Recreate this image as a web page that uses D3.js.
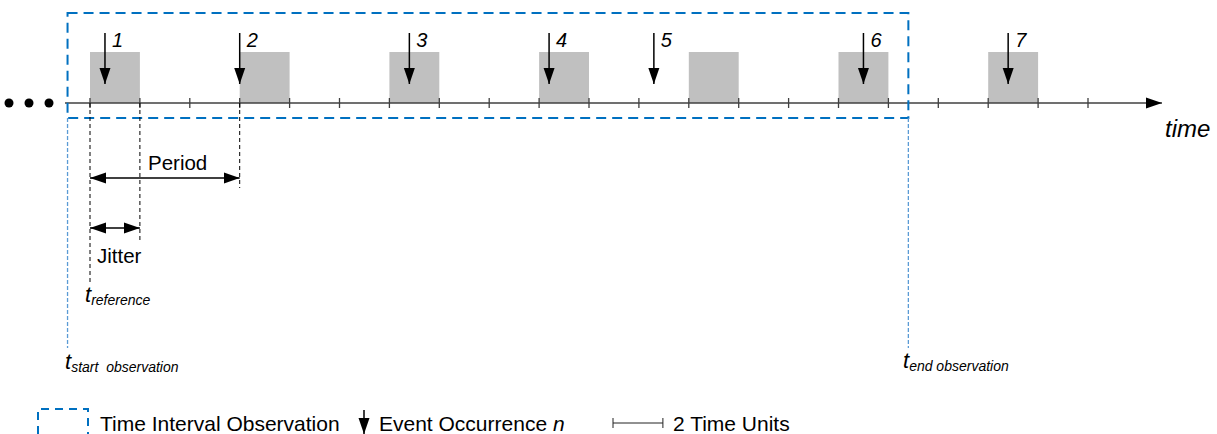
<!DOCTYPE html>
<meta charset="utf-8">
<script src="https://d3js.org/d3.v7.min.js"></script>
<style>
  body { margin: 0; background: #fff; }
  text { font-family: "Liberation Sans", Arial, sans-serif; fill: #000; }
</style>
<div id="my_dataviz"></div>
<script>
// data, in time units
var tickTimes = [0, 2, 4, 6, 8, 10, 12, 14, 16, 18, 20, 22, 24, 26, 28, 30, 32, 34, 36, 38, 40];
var windowStarts = [0, 6, 12, 18, 24, 30, 36];
var windowLength = 2;
var eventTimes = [0.6, 6.0, 12.8, 18.4, 22.6, 31.0, 36.8];
var eventLabels = ["1", "2", "3", "4", "5", "6", "7"];
var referenceTime = 0;
var period = 6;
var jitter = 2;
var observationStart = -0.9;
var observationEnd = 32.8;
var legendLabels = ["Time Interval Observation", "Event Occurrence ", "2 Time Units"];

var width = 1217, height = 434;
var axisY = 103;

var x = d3.scaleLinear().domain([0, 40]).range([90, 1088]);

var svg = d3.select("#my_dataviz")
  .append("svg")
    .attr("width", width)
    .attr("height", height);

var defs = svg.append("defs");
defs.append("marker")
    .attr("id", "head")
    .attr("markerUnits", "userSpaceOnUse")
    .attr("viewBox", "0 -6 17 12")
    .attr("markerWidth", 17).attr("markerHeight", 12)
    .attr("refX", 16).attr("refY", 0)
    .attr("orient", "auto-start-reverse")
  .append("path")
    .attr("d", "M0,-5.5L16,0L0,5.5Z")
    .attr("fill", "#000");

// jitter windows
svg.selectAll(".win")
  .data(windowStarts)
  .enter().append("rect")
    .attr("x", function(d) { return x(d); })
    .attr("y", 52)
    .attr("width", function(d) { return x(d + windowLength) - x(d); })
    .attr("height", axisY - 52)
    .attr("fill", "#c0c0c0");

// time axis
svg.append("line")
    .attr("x1", 65).attr("x2", 1162)
    .attr("y1", axisY).attr("y2", axisY)
    .attr("stroke", "#404040").attr("stroke-width", 1.5)
    .attr("marker-end", "url(#head)");

svg.selectAll(".tick")
  .data(tickTimes)
  .enter().append("line")
    .attr("x1", function(d) { return x(d); })
    .attr("x2", function(d) { return x(d); })
    .attr("y1", axisY - 5).attr("y2", axisY + 5)
    .attr("stroke", "#404040").attr("stroke-width", 1.3);

svg.append("text")
    .attr("x", 1165).attr("y", 137)
    .style("font-size", "24px").style("font-style", "italic")
    .text("time");

// leading dots
svg.selectAll(".dot")
  .data([9, 29, 49])
  .enter().append("circle")
    .attr("cx", function(d) { return d; })
    .attr("cy", axisY)
    .attr("r", 4.5)
    .attr("fill", "#000");

// events
var ev = svg.selectAll(".ev")
  .data(eventTimes)
  .enter().append("g");

ev.append("line")
    .attr("x1", function(d) { return x(d); })
    .attr("x2", function(d) { return x(d); })
    .attr("y1", 33).attr("y2", 84)
    .attr("stroke", "#000").attr("stroke-width", 1.5)
    .attr("marker-end", "url(#head)");

ev.append("text")
    .attr("x", function(d) { return x(d) + 7; })
    .attr("y", 47)
    .style("font-size", "20px").style("font-style", "italic")
    .text(function(d, i) { return eventLabels[i]; });

// observation interval
var blue = "#0070c0";
svg.append("rect")
    .attr("x", x(observationStart)).attr("y", 13)
    .attr("width", x(observationEnd) - x(observationStart))
    .attr("height", 105)
    .attr("fill", "none")
    .attr("stroke", blue).attr("stroke-width", 2)
    .attr("stroke-dasharray", "10,6");

svg.selectAll(".obs")
  .data([observationStart, observationEnd])
  .enter().append("line")
    .attr("x1", function(d) { return x(d); })
    .attr("x2", function(d) { return x(d); })
    .attr("y1", 118).attr("y2", 348)
    .attr("stroke", "#5b9bd5").attr("stroke-width", 1.3)
    .attr("stroke-dasharray", "4,2");

// reference lines
var refLines = [
  {t: referenceTime, y2: 282},
  {t: referenceTime + jitter, y2: 240},
  {t: referenceTime + period, y2: 188}
];
svg.selectAll(".ref")
  .data(refLines)
  .enter().append("line")
    .attr("x1", function(d) { return x(d.t); })
    .attr("x2", function(d) { return x(d.t); })
    .attr("y1", axisY).attr("y2", function(d) { return d.y2; })
    .attr("stroke", "#000").attr("stroke-width", 1)
    .attr("stroke-dasharray", "4,3");

// period and jitter dimension arrows
var dims = [
  {t0: referenceTime, t1: referenceTime + period, y: 178, label: "Period", ly: 170, lx: 148},
  {t0: referenceTime, t1: referenceTime + jitter, y: 228, label: "Jitter", ly: 263, lx: 97}
];
svg.selectAll(".dim")
  .data(dims)
  .enter().append("line")
    .attr("x1", function(d) { return x(d.t0); })
    .attr("x2", function(d) { return x(d.t1); })
    .attr("y1", function(d) { return d.y; })
    .attr("y2", function(d) { return d.y; })
    .attr("stroke", "#000").attr("stroke-width", 1.5)
    .attr("marker-start", "url(#head)")
    .attr("marker-end", "url(#head)");

svg.selectAll(".dimlab")
  .data(dims)
  .enter().append("text")
    .attr("x", function(d) { return d.lx; })
    .attr("y", function(d) { return d.ly; })
    .style("font-size", "20.5px")
    .text(function(d) { return d.label; });

// t labels
function tLabel(xp, y, sub) {
  var t = svg.append("text").attr("x", xp).attr("y", y).style("font-style", "italic");
  t.append("tspan").style("font-size", "22px").text("t");
  t.append("tspan").attr("dy", 3).style("font-size", "14px").text(sub);
}
tLabel(85, 302, "reference");
tLabel(65, 369, "start\u00a0 observation");
tLabel(903, 368, "end observation");

// legend
svg.append("path")
    .attr("d", "M38,434V409H88V434")
    .attr("fill", "none")
    .attr("stroke", blue).attr("stroke-width", 2)
    .attr("stroke-dasharray", "8,6");

svg.append("text").attr("x", 100).attr("y", 431)
    .style("font-size", "21px").text(legendLabels[0]);

svg.append("line")
    .attr("x1", 364).attr("x2", 364)
    .attr("y1", 410).attr("y2", 434)
    .attr("stroke", "#000").attr("stroke-width", 1.5)
    .attr("marker-end", "url(#head)");

var lt = svg.append("text").attr("x", 379).attr("y", 431).style("font-size", "21px");
lt.append("tspan").text(legendLabels[1]);
lt.append("tspan").style("font-style", "italic").text("n");

svg.append("line")
    .attr("x1", x(0) + 523).attr("x2", x(2) + 523)
    .attr("y1", 423).attr("y2", 423)
    .attr("stroke", "#222").attr("stroke-width", 1);
svg.selectAll(".lt")
  .data([0, 2])
  .enter().append("line")
    .attr("x1", function(d) { return x(d) + 523; })
    .attr("x2", function(d) { return x(d) + 523; })
    .attr("y1", 418).attr("y2", 428)
    .attr("stroke", "#222").attr("stroke-width", 1);

svg.append("text").attr("x", 673).attr("y", 431)
    .style("font-size", "21px").text(legendLabels[2]);
</script>
